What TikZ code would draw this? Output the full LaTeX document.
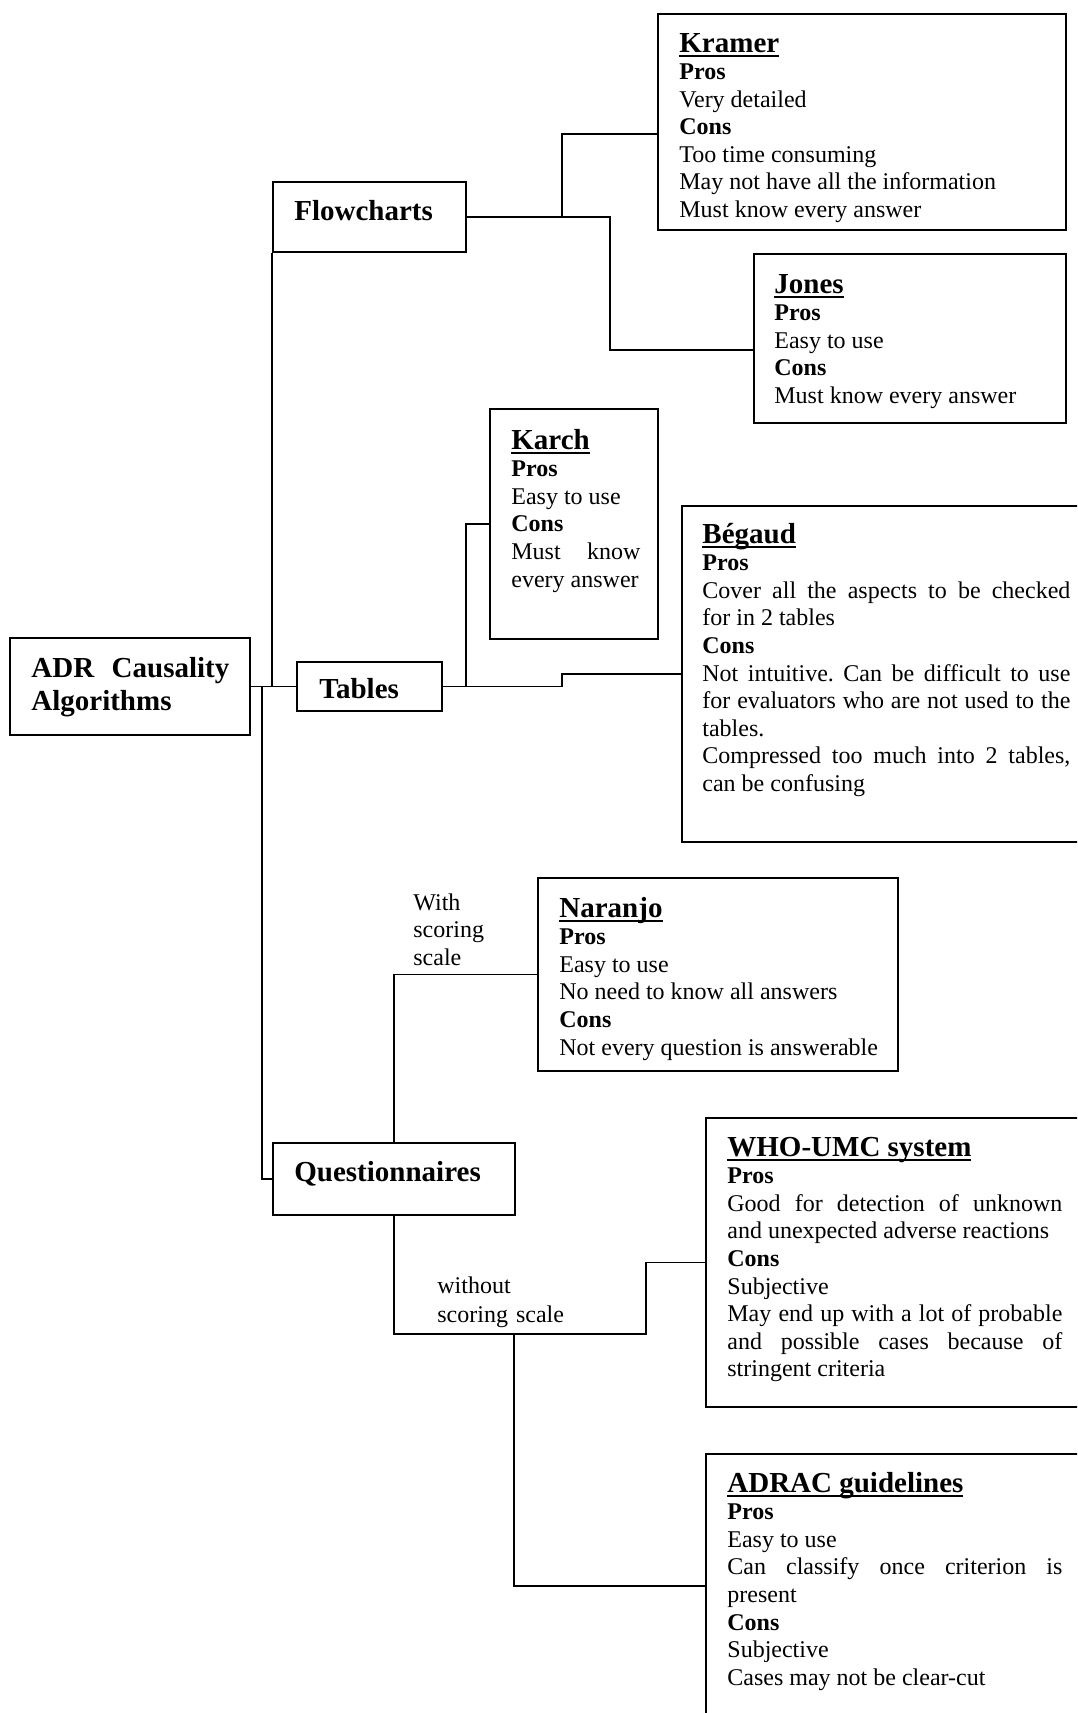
\documentclass[tikz,border=0pt]{standalone}
\usepackage{fontspec}
\setmainfont{Liberation Serif}
\usetikzlibrary{fit}
\newsavebox\ulbox
\newcommand\ulx[1]{\sbox\ulbox{#1}\rlap{\rule[-2.4pt]{\wd\ulbox}{1.1pt}}\usebox\ulbox}
\newcommand\ttl[1]{{\fontsize{14.5}{13.8}\selectfont\bfseries\ulx{#1}}\par}
\newcommand\hd[1]{\textbf{#1}\par}
\frenchspacing
\begin{document}
\begin{tikzpicture}[x=0.5pt,y=-0.5pt,
  box/.style={draw,line width=0.9pt,inner sep=0pt},
  conn/.style={line width=0.7pt},
  txt/.style={anchor=base west,inner sep=0pt,align=justify,font=\fontsize{12}{13.8}\selectfont\frenchspacing},
  bigtxt/.style={anchor=base west,inner sep=0pt,font=\fontsize{14.5}{16.5}\selectfont\bfseries}]
\useasboundingbox (0,0) rectangle (1077,1713);
\clip (0,0) rectangle (1077,1713);
\fill[white] (0,0) rectangle (1077,1713);

% boxes
\node[box,fit={(10,638) (250,735)}] (root) {};
\node[box,fit={(273,182) (466,252)}] (fc) {};
\node[box,fit={(297,662) (442,711)}] (tables) {};
\node[box,fit={(273,1143) (515,1215)}] (quest) {};
\node[box,fit={(658,14) (1066,230)}] (kramer) {};
\node[box,fit={(754,254) (1066,423)}] (jones) {};
\node[box,fit={(490,409) (658,639)}] (karch) {};
\node[box,fit={(682,506) (1095,842)}] (begaud) {};
\node[box,fit={(538,878) (898,1071)}] (naranjo) {};
\node[box,fit={(706,1118) (1095,1407)}] (who) {};
\node[box,fit={(706,1454) (1095,1780)}] (adrac) {};

% texts
\node[bigtxt,align=justify,text width=99pt] (root-t) at (31,677) {ADR Causality\linebreak Algorithms};
\node[bigtxt] (fc-t) at (294,220) {Flowcharts};
\node[bigtxt] (tables-t) at (319,698) {Tables};
\node[bigtxt] (quest-t) at (294,1181) {Questionnaires};

\node[txt,text width=184pt] (kramer-t) at (679,52) {\ttl{Kramer}\hd{Pros}Very detailed\par\hd{Cons}Too time consuming\par May not have all the information\par Must know every answer};
\node[txt,text width=150pt] (jones-t) at (774,293) {\ttl{Jones}\hd{Pros}Easy to use\par\hd{Cons}Must know every answer};
\node[txt,text width=64.5pt] (karch-t) at (511,449) {\ttl{Karch}\hd{Pros}Easy to use\par\hd{Cons}Must know\linebreak every answer};
\node[txt,text width=184pt] (begaud-t) at (702,543) {\ttl{Bégaud}\hd{Pros}Cover all the aspects to be checked\linebreak for in 2 tables\par\hd{Cons}Not intuitive. Can be difficult to use\linebreak for evaluators who are not used to the\linebreak tables.\par Compressed too much into 2 tables,\linebreak can be confusing};
\node[txt,text width=160pt] (naranjo-t) at (559,917) {\ttl{Naranjo}\hd{Pros}Easy to use\par No need to know all answers\par\hd{Cons}Not every question is answerable};
\node[txt,text width=167.5pt] (who-t) at (727,1156) {\ttl{WHO-UMC system}\hd{Pros}Good for detection of unknown\linebreak and unexpected adverse reactions\par\hd{Cons}Subjective\par May end up with a lot of probable\linebreak and possible cases because of\linebreak stringent criteria};
\node[txt,text width=167.5pt] (adrac-t) at (727,1492) {\ttl{ADRAC guidelines}\hd{Pros}Easy to use\par Can classify once criterion is\linebreak present\par\hd{Cons}Subjective\par Cases may not be clear-cut};

\node[txt,align=left,text width=60pt] (lab1) at (413,910) {With\par scoring\par scale};
\node[txt,align=left,text width=90pt,font=\fontsize{12}{14.5}\selectfont] (lab2) at (437,1293) {without\par scoring scale};

% connectors
\draw[conn] (root.east) -- (tables.west);
\draw[conn] (root.east) -| (fc.south west);
\coordinate (qsplit) at (262,686.5);
\draw[conn] (qsplit) |- (quest.west);
\draw[conn] (fc.east) -| (562,134) -- (kramer.west |- 562,134);
\draw[conn] (fc.east) -| (610,350) -- (jones.west |- 610,350);
\draw[conn] (tables.east) -| (466,524) -- (karch.west);
\draw[conn] (tables.east) -- (562,686.5) |- (begaud.west);
\draw[conn] (quest.north) |- (naranjo.west);
\draw[conn] (quest.south) |- (646,1334) |- (who.west);
\coordinate (asplit) at (514,1334);
\draw[conn] (asplit) |- (adrac.west |- 0,1586);
\end{tikzpicture}
\end{document}
